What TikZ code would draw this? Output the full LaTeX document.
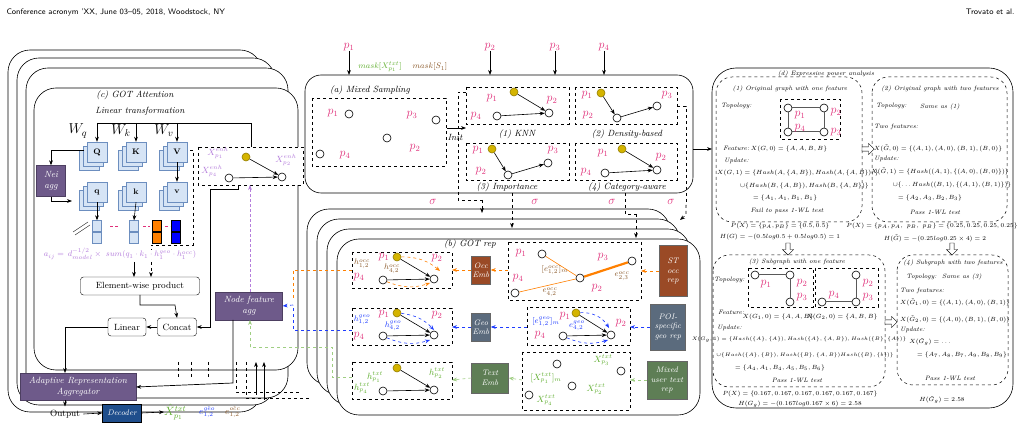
\documentclass[tikz,border=0pt]{standalone}
\usepackage{amsmath,amssymb}
\usetikzlibrary{arrows.meta,shapes.arrows}
\definecolor{pk}{HTML}{E0307A}
\definecolor{purpbox}{HTML}{6E5A8A}
\definecolor{occb}{HTML}{9A4A26}
\definecolor{geob}{HTML}{5B6B7D}
\definecolor{txtb}{HTML}{5E7E55}
\definecolor{decb}{HTML}{1F4E8C}
\definecolor{gold}{HTML}{D4B400}
\definecolor{lb}{HTML}{D6E4F5}
\definecolor{lbd}{HTML}{6C8EBF}
\definecolor{vio}{HTML}{B57EDC}
\definecolor{gr}{HTML}{5FAE2E}
\definecolor{brn}{HTML}{8B5A2B}
\definecolor{bl}{HTML}{1E3CFF}
\definecolor{orn}{HTML}{FF8000}
\begin{document}
\begin{tikzpicture}[x=1pt,y=-1pt,font=\small,
 frame/.style={draw,rounded corners=22pt,line width=0.6pt,fill=white},
 dbox/.style={draw,dashed,line width=0.5pt},
 gn/.style={circle,draw,fill=white,minimum size=8pt,inner sep=0pt,line width=0.6pt},
 yn/.style={gn,fill=gold,draw=gold!70!black},
 pl/.style={text=pk,font=\large,inner sep=0pt},
 arr/.style={-{Stealth[length=5pt]},line width=0.6pt},
 it/.style={font=\small\itshape},
 bb/.style={draw=lbd,fill=lb,minimum size=20pt,inner sep=0pt,font=\footnotesize\bfseries},
 cb/.style={draw=black,minimum width=9pt,minimum height=11pt,inner sep=0pt},
 pbox/.style={fill=purpbox,draw=purpbox!70!black,text=white,font=\small\itshape,align=center,inner sep=1pt},
 wbox/.style={draw,rounded corners=3pt,fill=white,inner sep=2pt},
 emb/.style={draw=black!60,text=white,font=\footnotesize\itshape,align=center,inner sep=1pt},
 tiny/.style={font=\fontsize{6.3}{7}\selectfont,inner sep=0pt},
 ti/.style={font=\fontsize{6.3}{7}\selectfont\itshape,inner sep=0pt},
 hol/.style={single arrow,draw,fill=white,minimum height=12pt,minimum width=11pt,single arrow head extend=2pt,inner sep=1pt}]
\useasboundingbox (0,0) rectangle (1021,430);
% header
\node[anchor=west,font=\sffamily\footnotesize] (hd1) at (3,12) {Conference acronym 'XX, June 03--05, 2018, Woodstock, NY};
\node[anchor=east,font=\sffamily\footnotesize] (hd2) at (1018,12) {Trovato et al.};

% ================= (c) GOT attention frames
\draw[frame] (8,50) rectangle (262,412);
\draw[frame] (17,58) rectangle (275,405);
\draw[frame] (26,68) rectangle (288,398);
\draw[frame] (34,88) rectangle (298,370);
\node[it] (ct) at (135,95) {(c) GOT Attention};
\node[it] (lt) at (140,111) {Linear transformation};
\node[font=\Large] (wq) at (78,131) {$W_q$};
\node[font=\Large] (wk) at (121,131) {$W_k$};
\node[font=\Large] (wv) at (164,131) {$W_v$};
\newcommand\stk[4]{\node[bb] at (#2-8,#3+8) {}; \node[bb] at (#2-4,#3+4) {}; \node[bb] (#1) at (#2,#3) {#4};}
\stk{Q}{97}{152}{Q}
\stk{K}{136}{152}{K}
\stk{V}{177}{152}{V}
\stk{q}{97}{192}{q}
\stk{k}{136}{192}{k}
\stk{v}{177}{192}{v}
\coordinate (top) at (251,123);
\draw[line width=0.7pt] (251,147) -- (top) -- (97,123);
\draw[arr] (97,123) -- (Q.north);
\draw[arr] (136,123) -- (K.north);
\draw[arr] (177,123) -- (V.north);
\draw[arr] (V.south) -- (v.north);
\node[pbox,minimum width=29pt,minimum height=31pt] (nei) at (51,181) {Nei\\agg};
\draw[arr] (84,150) -- (51,150) -- (nei.north);
\draw[arr] (nei.south) -- (51,201) -- (72,201);
% bars
\node[cb,draw=lbd,fill=lb] (qb1) at (97,226) {}; \node[cb,draw=lbd,fill=lb] (qb2) at (97,238) {};
\node[cb,draw=lbd,fill=lb] (kb1) at (134,226) {}; \node[cb,draw=lbd,fill=lb] (kb2) at (134,238) {};
\node[cb,fill=orn] (ob1) at (157,226) {}; \node[cb,fill=orn] (ob2) at (157,238) {};
\node[cb,fill=blue] (bb1) at (176,226) {}; \node[cb,fill=blue] (bb2) at (176,238) {};
\draw[arr] (q.south) -- (qb1.north);
\draw[arr] (k.south) -- (kb1.north);
\draw[pk,densely dashed] (110,226) -- (118,226) (143,226) -- (150,226) (165,226) -- (170,226);
\draw[dashed] (190,150) -- (193,150) -- (193,245) -- (151,245) -- (151,250);
\draw (73,232) -- (88,222) (75,235) -- (90,225);
\node[text=vio,font=\footnotesize] (form) at (120,254) {$a_{ij}=\,d_{model}^{-1/2}\times\ sum(q_1\cdot k_1\cdot h_1^{geo}\cdot h_1^{occ})$};
\node[wbox,minimum width=119pt,minimum height=18pt] (ewp) at (140,286) {Element-wise product};
\draw[arr] (134,262) -- (134,277);
\draw[arr,dashed] (151,262) -- (151,277);
\node[wbox,minimum width=39pt,minimum height=18pt] (cc) at (177,327) {Concat};
\node[wbox,minimum width=38pt,minimum height=18pt] (lin) at (127,327) {Linear};
\draw[arr] (140,295) -- (140,305) -- (175,305) -- (cc.north);
\draw[arr] (cc.west) -- (lin.east);
\draw[arr,line width=0.7pt] (238,185) -- (238,189) -- (210,189) -- (210,327) -- (cc.east);
\node[pbox,minimum width=67pt,minimum height=28pt] (nfa) at (249,306) {Node feature\\agg};
\node[pbox,minimum width=116pt,minimum height=27pt] (ara) at (78,387) {Adaptive Representation\\Aggregator};
\draw[arr,line width=0.7pt] (lin.west) -- (65,327) -- (65,373);
\draw[arr,line width=0.7pt] (233,320) -- (233,383) -- (ara.east);
\node (out) at (65,414) {Output};
\draw[arr] (65,400) -- (out.north);
\node[fill=decb,draw=black,text=white,font=\footnotesize\itshape,minimum width=39pt,minimum height=18pt,inner sep=0pt] (dec) at (122,413) {Decoder};
\draw[arr] (out.east) -- (dec.west);
\node[text=gr,anchor=west,inner sep=0pt,font=\large] (xh) at (164,412) {$\hat{X}^{txt}_{p_1}$};
\draw[arr] (dec.east) -- (xh.west);
\node[text=bl,anchor=west,inner sep=0pt] (eg) at (199,412) {$e^{\hat{geo}}_{1,2}$};
\node[text=brn,anchor=west,inner sep=0pt] (eo) at (225,412) {$e^{\hat{occ}}_{1,2}$};
% enh box
\draw[dbox,fill=white] (198,147) rectangle (303,185);
\node[text=vio] (xe1) at (218,153) {$X^{enh}_{p_1}$};
\node[text=vio] (xe4) at (212,171) {$X^{enh}_{p_4}$};
\node[text=vio] (xe2) at (286,160) {$X^{enh}_{p_2}$};
\node[yn] (e1) at (246,157) {};
\node[gn] (e2) at (282,177) {};
\node[gn] (e4) at (229,178) {};
\draw[arr] (e1) -- (e2); \draw[arr] (e4) -- (e2);
\draw[arr,vio,densely dashed] (250,292) -- (250,185);

% ================= (a) Mixed sampling
\draw[frame,rounded corners=16pt] (305,75) rectangle (693,193);
\foreach \x/\n in {349/1,490/2,555/3,604/4}{
 \node[pl] (pin\n) at (\x,47) {$p_\n$};
 \draw[arr] (pin\n.south) -- (\x,75);}
\node[text=gr,font=\footnotesize] (mk1) at (380,67) {$mask[X^{txt}_{p_1}]$};
\node[text=brn,font=\footnotesize] (mk2) at (430,67) {$mask[S_1]$};
\node[it] (at) at (370,90) {(a) Mixed Sampling};
\draw[dbox] (312,98) rectangle (446,166);
\node[gn] (a1) at (349,114) {}; \node[gn] (a3) at (436,120) {};
\node[gn] (a2) at (387,138) {}; \node[gn] (a4) at (320,154) {};
\node[pl] at (333,113) {$p_1$}; \node[pl] at (412,115) {$p_3$};
\node[pl] at (415,148) {$p_2$}; \node[pl] at (345,155) {$p_4$};
\coordinate (ia) at (447,128); \coordinate (ib) at (466,128);
\draw[arr] (ia) -- (ib);
\node[it] (init) at (455,137) {Init};
\draw[dbox] (466,92) -- (458,92) -- (458,200) -- (482,200);
% KNN
\draw[dbox] (466,87) rectangle (569,124);
\node[yn] (k1) at (514,92) {}; \node[gn] (k2) at (549,113) {}; \node[gn] (k4) at (497,116) {};
\node[pl] at (492,98) {$p_1$}; \node[pl] at (552,100) {$p_2$}; \node[pl] at (476,116) {$p_4$};
\draw[arr] (k1) -- (k2); \draw[arr] (k4) -- (k2);
\node[it] at (517,134) {(1) KNN};
% Density
\draw[dbox] (575,87) rectangle (677,124);
\node[yn] (d1) at (601,93) {}; \node[gn] (d2) at (617,118) {}; \node[gn] (d3) at (657,106) {};
\node[pl] at (587,95) {$p_1$}; \node[pl] at (667,95) {$p_3$}; \node[pl] at (588,115) {$p_2$};
\draw[arr] (d1) -- (d2); \draw[arr] (d2) -- (d3);
\node[it] at (627,134) {(2) Density-based};
% Importance
\draw[dbox] (466,143) rectangle (569,180);
\node[yn] (m1) at (492,149) {}; \node[gn] (m2) at (508,175) {}; \node[gn] (m3) at (548,163) {};
\node[pl] at (478,150) {$p_1$}; \node[pl] at (553,150) {$p_3$}; \node[pl] at (481,171) {$p_2$};
\draw[arr] (m1) -- (m2); \draw[arr] (m2) -- (m3);
\node[it] at (507,187) {(3) Importance};
% Category
\draw[dbox] (575,143) rectangle (677,180);
\node[yn] (c1) at (622,149) {}; \node[gn] (c2) at (657,170) {}; \node[gn] (c4) at (605,173) {};
\node[pl] at (603,153) {$p_1$}; \node[pl] at (661,157) {$p_2$}; \node[pl] at (586,172) {$p_4$};
\draw[arr] (c1) -- (c2); \draw[arr] (c4) -- (c2);
\node[it] at (627,187) {(4) Category-aware};
\draw[dbox] (677,106) -- (686,106) -- (686,205);
% sigma
\foreach \x/\n in {433/1,535/2,612/3,671/4} \node[text=pk,font=\large] (sg\n) at (\x,202) {$\sigma$};

% ================= (b) GOT rep frames
\draw[frame] (307,209) rectangle (670,385);
\draw[frame] (317,219) rectangle (680,395);
\draw[frame] (327,229) rectangle (690,405);
\draw[frame] (337,239) rectangle (700,415);
\draw[arr,dashed] (482,200) -- (482,213);
\draw[arr,dashed] (512,193) -- (512,228);
\draw[dashed] (625,193) -- (625,214) -- (636,214); \draw[arr,dashed] (636,214) -- (636,238);
\draw[arr,dashed] (686,205) -- (686,215) -- (680,220);
\node[it] (bt) at (470,244) {(b) GOT rep};
% occ out
\draw[dbox] (352,252) rectangle (452,288);
\node[yn] (o1) at (397,257) {}; \node[gn] (o2) at (434,279) {}; \node[gn] (o4) at (383,280) {};
\node[pl] at (384,257) {$p_1$}; \node[pl] at (437,258) {$p_2$}; \node[pl] at (359,277) {$p_4$};
\node[text=brn,font=\footnotesize,inner sep=0pt] at (362,264) {$h^{occ}_{1,2}$};
\node[text=brn,font=\footnotesize,inner sep=0pt] at (392,269) {$h^{occ}_{4,2}$};
\draw[arr] (o1) -- (o2); \draw[arr] (o4) -- (o2);
\draw[arr,orn,dashed] (o1) to[bend left=20] (440,271);
\draw[arr,orn,dashed] (o4) to[bend right=20] (430,283);
\node[emb,fill=occb,minimum width=19pt,minimum height=28pt] (oemb) at (481,270) {Occ\\Emb};
% occ in
\draw[dbox] (508,242) rectangle (641,300);
\node[gn] (i1) at (542,254) {}; \node[gn] (ic) at (580,278) {}; \node[gn] (i3) at (632,261) {}; \node[gn] (i4) at (515,293) {};
\draw[orn,line width=0.6pt] (i1) -- (ic); \draw[orn,line width=2.2pt] (ic) -- (i3); \draw[orn,line width=0.6pt] (i4) -- (ic);
\node[pl] at (521,253) {$p_1$}; \node[pl] at (603,257) {$p_3$}; \node[pl] at (518,278) {$p_4$}; \node[pl] at (597,288) {$p_2$};
\node[text=brn,font=\footnotesize] at (555,270) {$[e^{occ}_{1,2}]_m$};
\node[text=brn,font=\footnotesize] at (622,276) {$e^{occ}_{2,3}$};
\node[text=brn,font=\footnotesize] at (550,292) {$e^{occ}_{4,2}$};
\node[emb,fill=occb,minimum width=28pt,minimum height=51pt] (strep) at (673,271) {ST\\occ\\rep};
\draw[arr,orn,dashed] (strep.west) -- (641,271);
\draw[arr,orn,dashed] (508,270) -- (oemb.east);
\draw[arr,orn,dashed] (oemb.west) -- (452,270);
% geo out
\draw[dbox] (352,308) rectangle (452,345);
\node[yn] (g1) at (397,313) {}; \node[gn] (g2) at (434,335) {}; \node[gn] (g4) at (383,336) {};
\node[pl] at (384,314) {$p_1$}; \node[pl] at (437,315) {$p_2$}; \node[pl] at (359,336) {$p_4$};
\node[text=bl,font=\footnotesize,inner sep=0pt] at (362,320) {$h^{geo}_{1,2}$};
\node[text=bl,font=\footnotesize,inner sep=0pt] at (393,326) {$h^{geo}_{4,2}$};
\draw[arr] (g1) -- (g2); \draw[arr] (g4) -- (g2);
\draw[arr,bl,dashed] (g1) to[bend left=20] (434,330);
\draw[arr,bl,dashed] (g4) to[bend right=20] (430,340);
\node[emb,fill=geob,minimum width=19pt,minimum height=28pt] (gemb) at (481,327) {Geo\\Emb};
\draw[dbox] (527,307) rectangle (630,345);
\node[yn] (j1) at (576,313) {}; \node[gn] (j2) at (611,335) {}; \node[gn] (j4) at (563,336) {};
\node[pl] at (565,316) {$p_1$}; \node[pl] at (621,323) {$p_2$}; \node[pl] at (540,335) {$p_4$};
\node[text=bl,font=\footnotesize] at (546,322) {$[e^{geo}_{1,2}]_m$};
\node[text=bl,font=\footnotesize] at (577,326) {$e^{geo}_{4,2}$};
\draw[arr] (j1) -- (j2); \draw[arr] (j4) -- (j2);
\draw[arr,bl,dashed] (j1) to[bend left=30] (609,328);
\draw[arr,bl,dashed] (j4) to[bend right=20] (608,340);
\node[emb,fill=geob,minimum width=35pt,minimum height=46pt] (poi) at (668,327) {POI-\\specific\\geo rep};
\draw[arr,bl,dashed] (poi.west) -- (630,327);
\draw[arr,bl,dashed] (527,327) -- (gemb.east);
\draw[arr,bl,dashed] (gemb.west) -- (452,327);
% txt out
\draw[dbox] (352,362) rectangle (452,399);
\node[yn] (t1) at (397,368) {}; \node[gn] (t2) at (434,390) {}; \node[gn] (t4) at (383,391) {};
\node[text=gr,inner sep=0pt] at (375,377) {$h^{txt}_{p_1}$};
\node[text=gr,inner sep=0pt] at (437,373) {$h^{txt}_{p_2}$};
\node[text=gr,inner sep=0pt] at (362,388) {$h^{txt}_{p_4}$};
\draw[arr] (t1) -- (t2); \draw[arr] (t4) -- (t2);
\node[emb,fill=txtb,minimum width=37pt,minimum height=30pt] (temb) at (490,378) {Text\\Emb};
\draw[dbox] (522,352) rectangle (630,410);
\node[gn] (u1) at (557,364) {}; \node[gn] (u2) at (572,386) {}; \node[gn] (u3) at (621,371) {}; \node[gn] (u4) at (529,395) {};
\node[text=gr,inner sep=0pt] at (546,378) {$[X^{txt}_{p_1}]_m$};
\node[text=gr,inner sep=0pt] at (603,360) {$X^{txt}_{p_3}$};
\node[text=gr,inner sep=0pt] at (596,389) {$X^{txt}_{p_2}$};
\node[text=gr,inner sep=0pt] at (546,400) {$X^{txt}_{p_4}$};
\node[emb,fill=txtb,minimum width=40pt,minimum height=38pt] (mut) at (667,380) {Mixed\\user text\\rep};
\draw[arr,gr!60,dashed] (mut.west) -- (630,380);
\draw[arr,gr!60,dashed] (522,380) -- (temb.east);
\draw[arr,gr!60,dashed] (temb.west) -- (452,380);
% links to node feature agg
\draw[orn,dashed] (352,270) -- (293,270) -- (293,300);
\draw[bl,dashed] (352,330) -- (293,330) -- (293,305);
\draw[arr,bl,dashed] (293,305) -- (nfa.east);
\draw[gr!60,dashed] (352,377) -- (332,377) -- (332,347) -- (250,347);
\draw[arr,gr!60,dashed] (250,347) -- (250,320);
\draw[dashed] (178,362) -- (178,378) (191,362) -- (191,378) (208,362) -- (208,378);
\draw[dashed] (236,362) -- (236,392) -- (300,392) (246,362) -- (246,398) -- (310,398);
\draw[arr] (264,400) -- (264,362);
\draw[arr] (256,395) -- (256,362);

% ================= (d) expressive power
\draw[frame,rounded corners=24pt] (712,68) rectangle (1013,408);
\draw[arr] (693,149) -- (712,149);
\node[ti] (dt) at (826,74) {(d) Expressive power analysis};
\draw[dbox,rounded corners=16pt] (716,77) rectangle (862,222);
\draw[dbox,rounded corners=16pt] (872,77) rectangle (1007,222);
\draw[dbox,rounded corners=16pt] (713,255) rectangle (885,387);
\draw[dbox,rounded corners=16pt] (897,255) rectangle (1008,385);
\begin{scope}[every node/.style={tiny}]
\node[ti] at (790,89) {(1) Original graph with one feature};
\node[ti,anchor=west] at (721,106) {Topology:};
\node[ti,anchor=west] at (723,148) {Feature:};
\node at (789,149) {$X(G,0)=\{A,A,B,B\}$};
\node[ti,anchor=west] at (724,161) {Update:};
\node[anchor=west] at (717,173) {$X(G,1)=\{Hash(A,\{A,B\}),Hash(A,\{A,B\}),\}$};
\node[anchor=west] at (740,186) {$\cup\{Hash(B,\{A,B\}),Hash(B,\{A,B\})\}$};
\node[anchor=west] at (753,198) {$=\{A_1,A_1,B_1,B_1\}$};
\node[ti] at (787,211) {Fail to pass 1-WL test};
\node[ti] at (940,89) {(2) Original graph with two features};
\node[ti,anchor=west] at (876,106) {Topology:};
\node[ti] at (940,107) {Same as (1)};
\node[ti,anchor=west] at (874,127) {Two features:};
\node at (938,148) {$X(\tilde G,0)=\{(A,1),(A,0),(B,1),(B,0)\}$};
\node[ti,anchor=west] at (874,159) {Update:};
\node at (940,171) {$X(\tilde G,1)=\{Hash((A,1),\{(A,0),(B,0)\})\}$};
\node at (952,185) {$\cup\{\ldots Hash((B,1),\{(A,1),(B,1)\})\}$};
\node at (930,198) {$=\{A_2,A_3,B_2,B_3\}$};
\node[ti] at (935,212) {Pass 1-WL test};
\node at (780,226) {$P(X)=\{p_A,p_B\}=\{0.5,0.5\}$};
\node at (780,237) {$H(G)=-(0.5log0.5+0.5log0.5)=1$};
\node at (932,226) {$P(X)=\{p_A,p_A,\ p_B,\ p_B\}=\{0.25,0.25,0.25,0.25\}$};
\node at (935,238) {$H(\tilde G)=-(0.25log0.25\times 4)=2$};
\node[ti] at (797,262) {(3) Subgraph with one feature};
\node[ti,anchor=west] at (714,280) {Topology:};
\node[ti,anchor=west] at (718,312) {Feature:};
\node at (778,317) {$X(G_1,0)=\{A,A,B\}$};
\node at (842,317) {$X(G_2,0)=\{A,B,B\}$};
\node[ti,anchor=west] at (717,328) {Update:};
\node[font=\fontsize{4.5}{5}\selectfont] at (799,340) {$X(G_g,1)=\{Hash(\{A\},\{A\}),Hash(\{A\},\{A,B\}),Hash(\{B\},\{A\})\}$};
\node[font=\fontsize{5.5}{6}\selectfont] at (805,355) {$\cup\{Hash(\{A\},\{B\}),Hash(\{B\},\{A,B\})Hash(\{B\},\{b\})\}$};
\node at (780,368) {$=\{A_4,A_1,B_4,A_5,B_5,B_6\}$};
\node[ti] at (797,380) {Pass 1-WL test};
\node[ti] at (953,263) {(4) Subgraph with two features};
\node[ti] at (944,277) {Topology:\ \ Same as (3)};
\node[ti,anchor=west] at (900,291) {Two features:};
\node at (955,302) {$X(\tilde G_1,0)=\{(A,1),(A,0),(B,1)\}$};
\node at (955,319) {$X(\tilde G_2,0)=\{(A,0),(B,1),(B,0)\}$};
\node[ti,anchor=west] at (900,330) {Update:};
\node at (930,342) {$X(\tilde G_g)=\ldots$};
\node at (962,355) {$=\{A_7,A_8,B_7,A_9,B_8,B_9\}$};
\node[ti] at (950,378) {Pass 1-WL test};
\node at (800,394) {$P(X)=\{0.167,0.167,0.167,0.167,0.167,0.167\}$};
\node at (800,404) {$H(G_g)=-(0.167log0.167\times 6)=2.58$};
\node at (942,400) {$H(\tilde G_g)=2.58$};
\end{scope}
\node[hol] (h1) at (867,149) {};
\node[hol,rotate=-90] (h2) at (788,248) {};
\node[hol,rotate=-90] (h3) at (952,248) {};
\node[hol] (h4) at (890,322) {};
% graph (1)
\draw[dbox] (780,99) rectangle (840,139);
\node[gn] (r1) at (788,108) {}; \node[gn] (r2) at (824,108) {}; \node[gn] (r4) at (788,132) {}; \node[gn] (r3) at (824,132) {};
\draw[gray!70!black,line width=1pt] (r1) -- (r2) -- (r3) -- (r4) -- (r1);
\node[pl] at (800,115) {$p_1$}; \node[pl] at (836,112) {$p_2$}; \node[pl] at (800,128) {$p_4$}; \node[pl] at (836,132) {$p_3$};
% graph (3)
\draw[dbox] (748,268) rectangle (813,307);
\draw[dbox] (815,268) rectangle (878,307);
\node[gn] (s1) at (755,275) {}; \node[gn] (s2) at (790,275) {}; \node[gn] (s3) at (790,302) {};
\draw[gray!70!black,line width=1pt] (s1) -- (s2) -- (s3);
\node[gn] (s5) at (856,275) {}; \node[gn] (s6) at (856,302) {}; \node[gn] (s7) at (822,302) {};
\draw[gray!70!black,line width=1pt] (s5) -- (s6) -- (s7);
\node[pl] at (766,284) {$p_1$}; \node[pl] at (802,283) {$p_2$}; \node[pl] at (802,297) {$p_3$};
\node[pl] at (868,283) {$p_2$}; \node[pl] at (868,297) {$p_3$}; \node[pl] at (834,295) {$p_4$};
\end{tikzpicture}
\end{document}
